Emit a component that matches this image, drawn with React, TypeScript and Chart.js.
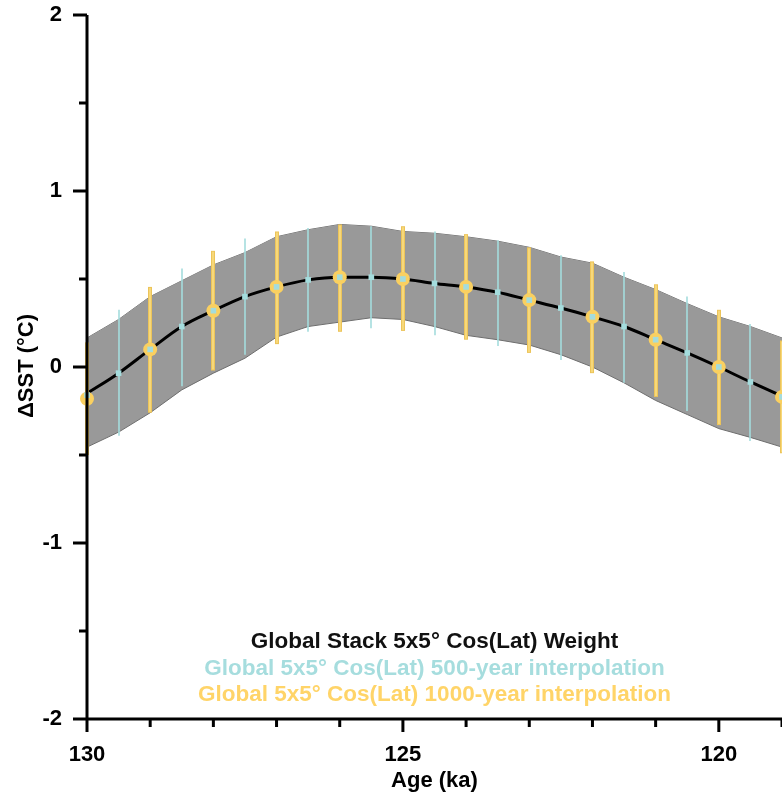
import { useEffect, useRef } from "react";
import { Chart, registerables } from "chart.js";

Chart.register(...registerables);

// Global stack (ka, °C) with its uncertainty envelope
const stackAge = [130, 129.5, 129, 128.5, 128, 127.5, 127, 126.5, 126, 125.5, 125, 124.5, 124, 123.5, 123, 122.5, 122, 121.5, 121, 120.5, 120, 119.5, 119];
const stackMean = [-0.15, -0.035, 0.1, 0.23, 0.32, 0.4, 0.455, 0.495, 0.51, 0.51, 0.5, 0.475, 0.455, 0.425, 0.38, 0.335, 0.285, 0.23, 0.155, 0.08, 0.0, -0.085, -0.165];
const stackUpper = [0.165, 0.27, 0.4, 0.49, 0.58, 0.65, 0.74, 0.78, 0.81, 0.8, 0.77, 0.76, 0.74, 0.715, 0.68, 0.625, 0.59, 0.51, 0.44, 0.36, 0.285, 0.23, 0.165];
const stackLower = [-0.455, -0.37, -0.26, -0.13, -0.035, 0.05, 0.17, 0.23, 0.255, 0.28, 0.27, 0.23, 0.18, 0.155, 0.125, 0.07, 0.0, -0.09, -0.19, -0.27, -0.35, -0.4, -0.455];

// 500-year interpolation
const interp500Age = [130, 129.5, 129, 128.5, 128, 127.5, 127, 126.5, 126, 125.5, 125, 124.5, 124, 123.5, 123, 122.5, 122, 121.5, 121, 120.5, 120, 119.5, 119];
const interp500Value = [-0.16, -0.035, 0.1, 0.23, 0.32, 0.4, 0.455, 0.495, 0.51, 0.51, 0.5, 0.475, 0.455, 0.425, 0.38, 0.335, 0.285, 0.23, 0.155, 0.08, 0.0, -0.085, -0.17];
const interp500High = [null, 0.325, null, 0.56, null, 0.73, null, 0.79, null, 0.8, null, 0.77, null, 0.72, null, 0.635, null, 0.54, null, 0.4, null, 0.245, null];
const interp500Low = [null, -0.39, null, -0.11, null, 0.07, null, 0.2, null, 0.22, null, 0.18, null, 0.12, null, 0.04, null, -0.09, null, -0.25, null, -0.42, null];

// 1000-year interpolation
const interp1000Age = [130, 129, 128, 127, 126, 125, 124, 123, 122, 121, 120, 119];
const interp1000Value = [-0.18, 0.1, 0.32, 0.455, 0.51, 0.5, 0.455, 0.38, 0.285, 0.155, 0.0, -0.17];
const interp1000High = [0.14, 0.455, 0.66, 0.77, 0.81, 0.8, 0.755, 0.68, 0.6, 0.47, 0.325, 0.15];
const interp1000Low = [-0.5, -0.26, -0.02, 0.13, 0.2, 0.205, 0.155, 0.08, -0.035, -0.17, -0.33, -0.49];

const xMajorLabels = [130, 125, 120];
const yMajorLabels = [-2, -1, 0, 1, 2];

const legendLines = [
  "Global Stack 5x5° Cos(Lat) Weight",
  "Global 5x5° Cos(Lat) 500-year interpolation",
  "Global 5x5° Cos(Lat) 1000-year interpolation",
];

const FONT = '"Liberation Sans", Arial, Helvetica, sans-serif';
const TEAL = "rgb(164, 220, 221)";
const YELLOW = "rgb(250, 208, 96)";
const YELLOW_EDGE = "rgb(236, 196, 90)";
const YELLOW_CORE = "rgb(250, 222, 130)";
const LEGEND_COLORS = ["#111111", "rgb(166, 221, 222)", "rgb(255, 212, 104)"];

const YELLOW_INDEX = 3;

const pairs = (xs: number[], ys: number[]) => xs.map((x, i) => ({ x, y: ys[i] }));

const noScalePadding = (s: any) => {
  s.paddingTop = 0;
  s.paddingBottom = 0;
  s.paddingLeft = 0;
  s.paddingRight = 0;
};

// Error bars for the two interpolations, drawn just under the 1000-year markers
const errorBars = {
  id: "errorBars",
  beforeDatasetDraw(chart: any, args: any) {
    if (args.index !== YELLOW_INDEX) return;
    const { ctx, scales } = chart;
    const x = scales.x;
    const y = scales.y;
    ctx.save();
    ctx.lineCap = "butt";
    ctx.strokeStyle = TEAL;
    ctx.lineWidth = 1.6;
    interp500Age.forEach((a, i) => {
      const hi = interp500High[i];
      const lo = interp500Low[i];
      if (hi == null || lo == null) return;
      const px = Math.round(x.getPixelForValue(a));
      ctx.beginPath();
      ctx.moveTo(px, y.getPixelForValue(hi));
      ctx.lineTo(px, y.getPixelForValue(lo));
      ctx.stroke();
    });
    interp1000Age.forEach((a, i) => {
      const px = Math.round(x.getPixelForValue(a));
      const top = y.getPixelForValue(interp1000High[i]);
      const bot = y.getPixelForValue(interp1000Low[i]);
      ctx.strokeStyle = YELLOW_EDGE;
      ctx.lineWidth = 4;
      ctx.beginPath();
      ctx.moveTo(px, top);
      ctx.lineTo(px, bot);
      ctx.stroke();
      ctx.strokeStyle = YELLOW_CORE;
      ctx.lineWidth = 1.6;
      ctx.beginPath();
      ctx.moveTo(px, top + 1);
      ctx.lineTo(px, bot - 1);
      ctx.stroke();
    });
    ctx.restore();
  },
};

// Axis lines, tick marks, axis titles and the text key
const axesAndKey = {
  id: "axesAndKey",
  afterDatasetsDraw(chart: any) {
    const { ctx, chartArea, scales } = chart;
    const x = scales.x;
    const y = scales.y;
    ctx.save();
    ctx.strokeStyle = "#000";
    ctx.lineWidth = 3;
    ctx.lineCap = "butt";
    ctx.beginPath();
    ctx.moveTo(chartArea.left, chartArea.top);
    ctx.lineTo(chartArea.left, chartArea.bottom);
    ctx.moveTo(chartArea.left, chartArea.bottom);
    ctx.lineTo(chartArea.right, chartArea.bottom);
    ctx.stroke();

    x.ticks.forEach((t: any) => {
      const major = xMajorLabels.includes(t.value);
      const px = x.getPixelForValue(t.value);
      ctx.beginPath();
      ctx.moveTo(px, chartArea.bottom);
      ctx.lineTo(px, chartArea.bottom + (major ? 13 : 8));
      ctx.stroke();
    });
    y.ticks.forEach((t: any) => {
      const major = yMajorLabels.includes(t.value);
      const py = y.getPixelForValue(t.value);
      ctx.beginPath();
      ctx.moveTo(chartArea.left, py);
      ctx.lineTo(chartArea.left - (major ? 14 : 8), py);
      ctx.stroke();
    });

    ctx.fillStyle = "#000";
    ctx.font = `bold 22px ${FONT}`;
    ctx.textAlign = "center";
    ctx.textBaseline = "alphabetic";
    ctx.fillText("Age (ka)", (chartArea.left + chartArea.right) / 2, 787);

    ctx.save();
    ctx.translate(33, (chartArea.top + chartArea.bottom) / 2 - 1);
    ctx.rotate(-Math.PI / 2);
    ctx.font = `bold 22px ${FONT}`;
    ctx.fillText("ΔSST (°C)", 0, 0);
    ctx.restore();

    ctx.font = `bold 22.5px ${FONT}`;
    const cx = (chartArea.left + chartArea.right) / 2;
    legendLines.forEach((line, i) => {
      ctx.fillStyle = LEGEND_COLORS[i];
      ctx.fillText(line, cx, 648 + i * 26.5);
    });
    ctx.restore();
  },
};

export default function App() {
  const canvasRef = useRef<HTMLCanvasElement | null>(null);

  useEffect(() => {
    const canvas = canvasRef.current;
    if (!canvas) return;
    const tickFont = { family: FONT, size: 22, weight: "bold" as const };
    const chart = new Chart(canvas, {
      type: "line",
      data: {
        datasets: [
          {
            label: "upper",
            data: pairs(stackAge, stackUpper),
            borderColor: "#6e6e6e",
            borderWidth: 1,
            pointRadius: 0,
            tension: 0,
            fill: false,
            order: 5,
          },
          {
            label: "lower",
            data: pairs(stackAge, stackLower),
            borderColor: "#6e6e6e",
            borderWidth: 1,
            pointRadius: 0,
            tension: 0,
            fill: { target: "-1" },
            backgroundColor: "rgb(153, 153, 153)",
            order: 4,
          },
          {
            label: legendLines[0],
            data: pairs(stackAge, stackMean),
            borderColor: "#000",
            borderWidth: 3,
            pointRadius: 0,
            tension: 0.4,
            cubicInterpolationMode: "monotone",
            fill: false,
            order: 3,
          },
          {
            label: legendLines[2],
            data: pairs(interp1000Age, interp1000Value),
            showLine: false,
            pointStyle: "circle",
            pointRadius: 7,
            pointBackgroundColor: YELLOW,
            pointBorderWidth: 0,
            clip: false as any,
            order: 2,
          },
          {
            label: legendLines[1],
            data: pairs(interp500Age, interp500Value),
            showLine: false,
            pointStyle: "rect",
            pointRadius: 4,
            pointBackgroundColor: TEAL,
            pointBorderWidth: 0,
            clip: false as any,
            order: 1,
          },
        ],
      },
      options: {
        animation: false,
        responsive: false,
        layout: { padding: { top: 15, left: 0, right: 0, bottom: 0 }, autoPadding: false },
        plugins: {
          legend: { display: false },
          tooltip: { enabled: false },
        },
        scales: {
          x: {
            type: "linear",
            min: 119,
            max: 130,
            reverse: true,
            grid: { display: false },
            border: { display: false },
            afterFit: (s: any) => {
              s.height = 80;
              noScalePadding(s);
            },
            ticks: {
              stepSize: 1,
              padding: 15,
              color: "#000",
              font: tickFont,
              maxRotation: 0,
              autoSkip: false,
              callback: (v: any) => (xMajorLabels.includes(Number(v)) ? String(v) : ""),
            },
          },
          y: {
            type: "linear",
            min: -2,
            max: 2,
            grid: { display: false },
            border: { display: false },
            afterFit: (s: any) => {
              s.width = 87;
              noScalePadding(s);
            },
            ticks: {
              stepSize: 0.5,
              padding: 17,
              color: "#000",
              font: tickFont,
              autoSkip: false,
              callback: (v: any) => (yMajorLabels.includes(Number(v)) ? String(v) : ""),
            },
          },
        },
      },
      plugins: [errorBars, axesAndKey],
    });
    return () => chart.destroy();
  }, []);

  return (
    <div style={{ position: "absolute", left: 0, top: 0, width: 782, height: 799, background: "#fff" }}>
      <canvas ref={canvasRef} width={782} height={799} style={{ display: "block" }} />
    </div>
  );
}
